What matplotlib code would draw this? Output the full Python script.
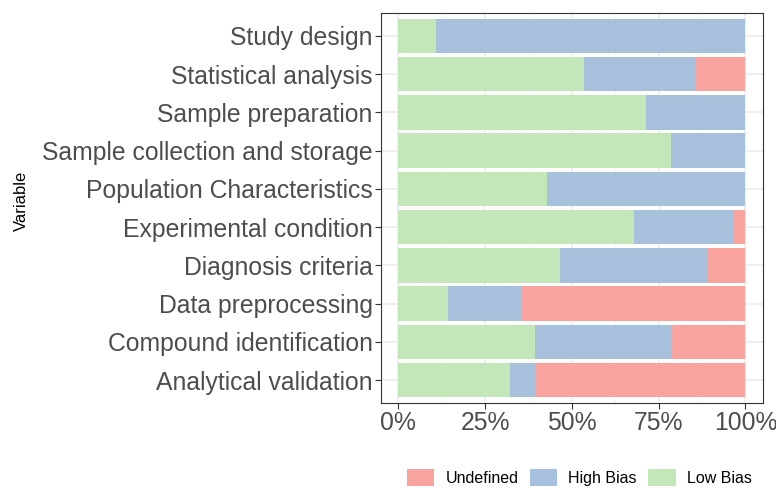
"""Risk-of-bias stacked bar chart (share of studies per assessment item)."""

import matplotlib
matplotlib.use("Agg")
import matplotlib.pyplot as plt
from matplotlib.patches import Patch
from matplotlib.ticker import FixedLocator, PercentFormatter
import numpy as np

# ------------------------------------------------------------
# data (counts, 28 studies per item)
# ------------------------------------------------------------
variables = [
    "Study design",
    "Statistical analysis",
    "Sample preparation",
    "Sample collection and storage",
    "Population Characteristics",
    "Experimental condition",
    "Diagnosis criteria",
    "Data preprocessing",
    "Compound identification",
    "Analytical validation",
]
low_bias = [3, 15, 20, 22, 12, 19, 13, 4, 11, 9]
high_bias = [25, 9, 8, 6, 16, 8, 12, 6, 11, 2]
undefined = [0, 4, 0, 0, 0, 1, 3, 18, 6, 17]

series_names = ["Low Bias", "High Bias", "Undefined"]
series_colors = {
    "Low Bias": "#C3E7B8",
    "High Bias": "#A7C0DC",
    "Undefined": "#F8A39E",
}

plt.rcParams["font.family"] = ["Liberation Sans", "DejaVu Sans"]

fig = plt.figure(figsize=(7.76, 4.90), dpi=100)
ax = fig.add_axes([0.491, 0.1776, 0.492, 0.796])

counts = np.array([low_bias, high_bias, undefined], dtype=float)
shares = counts / counts.sum(axis=0)
y = np.arange(len(variables))[::-1]

left = np.zeros(len(variables))
for name, row in zip(series_names, shares):
    ax.barh(y, row, left=left, height=0.9, color=series_colors[name],
            linewidth=0, zorder=2)
    left += row

# axes styling, close to ggplot theme_bw
ax.set_xlim(-0.05, 1.05)
ax.set_ylim(-0.6, len(variables) - 0.4)
ax.xaxis.set_major_locator(FixedLocator([0, 0.25, 0.5, 0.75, 1.0]))
ax.xaxis.set_minor_locator(FixedLocator([0.125, 0.375, 0.625, 0.875]))
ax.xaxis.set_major_formatter(PercentFormatter(xmax=1, decimals=0))
ax.set_yticks(y)
ax.set_yticklabels(variables)

ax.grid(which="major", color="#EBEBEB", linewidth=1.1, zorder=0)
ax.grid(which="minor", axis="x", color="#F3F3F3", linewidth=0.6, zorder=0)
ax.set_axisbelow(True)
for spine in ax.spines.values():
    spine.set_color("#333333")
    spine.set_linewidth(0.8)

ax.tick_params(axis="both", which="major", labelsize=17.8,
               colors="#333333", labelcolor="#4D4D4D", length=4, width=0.8,
               pad=2)
ax.tick_params(axis="x", which="minor", length=0)

# axis title sits at the far left of the figure
fig.text(0.0277, 0.59, "Variable", rotation=90, fontsize=12,
         ha="center", va="center", color="black")

handles = [Patch(facecolor=series_colors[n], edgecolor="none", label=n)
           for n in ["Undefined", "High Bias", "Low Bias"]]
fig.legend(handles=handles, loc="center left", bbox_to_anchor=(0.5245, 0.026),
           ncol=3, frameon=False, fontsize=11.5, handlelength=1.7,
           handleheight=1.3, handletextpad=0.7, columnspacing=0.73,
           borderpad=0, borderaxespad=0)

fig.savefig("out.png", dpi=100)
